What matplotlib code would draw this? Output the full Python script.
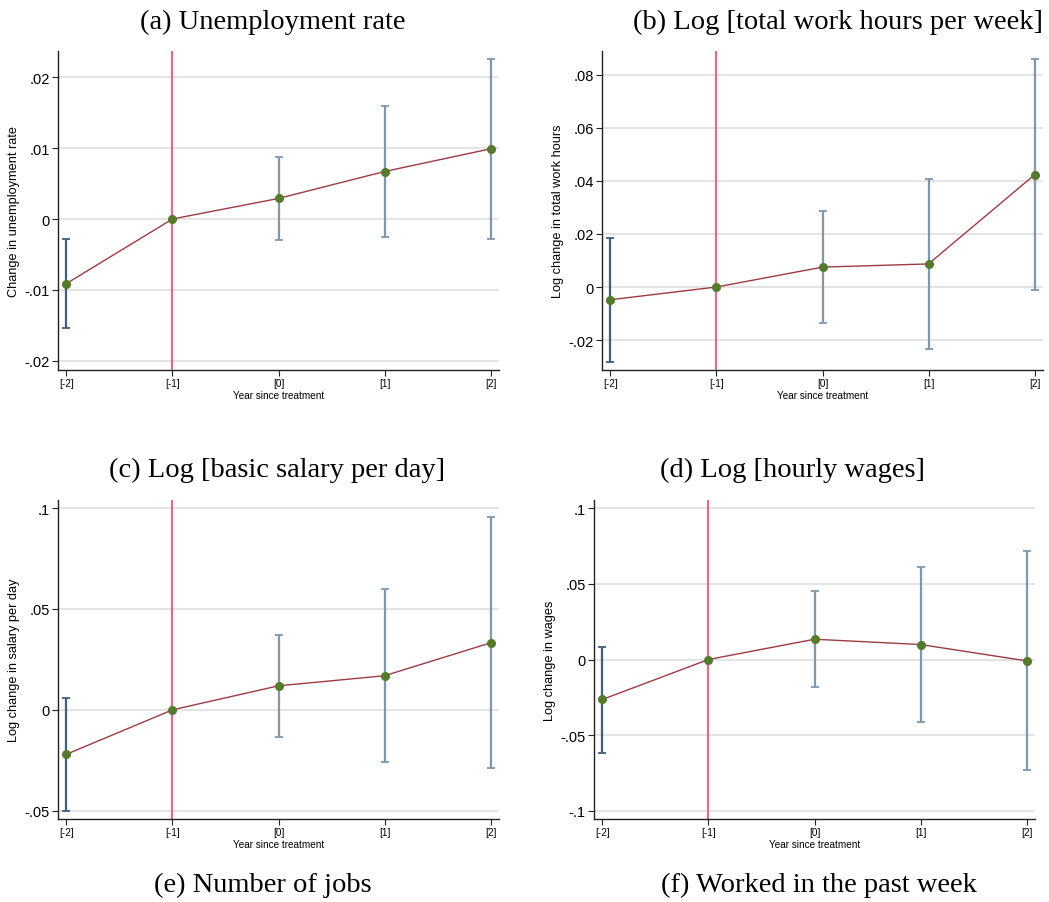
import numpy as np
import matplotlib
matplotlib.use('Agg')
import matplotlib.pyplot as plt

W, H = 1049, 903

YEARS = [-2, -1, 0, 1, 2]
YEAR_LABELS = ['[-2]', '[-1]', '[0]', '[1]', '[2]']

# (a) unemployment rate
unemp = [-0.0091, 0.0, 0.0029, 0.0067, 0.0099]
unemp_lo = [-0.0154, 0.0, -0.0030, -0.0026, -0.0028]
unemp_hi = [-0.0028, 0.0, 0.0087, 0.0160, 0.0226]

# (b) log total work hours
hours = [-0.0048, 0.0, 0.0075, 0.0087, 0.0423]
hours_lo = [-0.0281, 0.0, -0.0136, -0.0233, -0.0013]
hours_hi = [0.0185, 0.0, 0.0285, 0.0407, 0.0859]

# (c) log salary per day
salary = [-0.0220, 0.0, 0.0119, 0.0169, 0.0332]
salary_lo = [-0.0500, 0.0, -0.0136, -0.0260, -0.0288]
salary_hi = [0.0060, 0.0, 0.0373, 0.0597, 0.0955]

# (d) log hourly wages
wages = [-0.0264, 0.0, 0.0134, 0.0099, -0.0009]
wages_lo = [-0.0617, 0.0, -0.0183, -0.0412, -0.0734]
wages_hi = [0.0083, 0.0, 0.0451, 0.0615, 0.0716]

PANELS = [
    # values, lo, hi, ylabel, yticks, yticklabels, ylim, box (left, right, top, bottom px)
    (unemp, unemp_lo, unemp_hi, 'Change in unemployment rate',
     [-0.02, -0.01, 0, 0.01, 0.02], ['-.02', '-.01', '0', '.01', '.02'],
     (-0.0213, 0.0237), (58, 499, 52, 371)),
    (hours, hours_lo, hours_hi, 'Log change in total work hours',
     [-0.02, 0, 0.02, 0.04, 0.06, 0.08], ['-.02', '0', '.02', '.04', '.06', '.08'],
     (-0.0313, 0.089), (602, 1043, 52, 371)),
    (salary, salary_lo, salary_hi, 'Log change in salary per day',
     [-0.05, 0, 0.05, 0.1], ['-.05', '0', '.05', '.1'],
     (-0.0541, 0.104), (58, 499, 501, 820)),
    (wages, wages_lo, wages_hi, 'Log change in wages',
     [-0.1, -0.05, 0, 0.05, 0.1], ['-.1', '-.05', '0', '.05', '.1'],
     (-0.1055, 0.1055), (594, 1035, 501, 820)),
]

CAPTIONS = [
    ('(a) Unemployment rate', 273, 22),
    ('(b) Log [total work hours per week]', 838, 22),
    ('(c) Log [basic salary per day]', 277, 470),
    ('(d) Log [hourly wages]', 792, 470),
    ('(e) Number of jobs', 263, 885),
    ('(f) Worked in the past week', 819, 885),
]

LINE_C = '#9e3a44'
DOT_C = '#557a2c'
CI_FIRST = '#3f5f82'
CI_REST = '#7f98ae'
VLINE_C = '#d9708d'
GRID_C = '#dcdcdc'


def draw_panel(fig, vals, lo, hi, ylabel, yticks, ylabels, ylim, box):
    left, right, top, bottom = box
    ax = fig.add_axes([left / W, (H - bottom) / H, (right - left) / W, (bottom - top) / H])
    ax.set_xlim(-2.08, 2.08)
    ax.set_ylim(*ylim)
    for t in yticks:
        ax.axhline(t, color=GRID_C, lw=1.1, zorder=0)
    ax.axvline(-1, color=VLINE_C, lw=1.6, zorder=1)

    vals = np.array(vals)
    lo, hi = np.array(lo), np.array(hi)
    for i, x in enumerate(YEARS):
        if x == -1:
            continue
        c = CI_FIRST if i == 0 else CI_REST
        ax.errorbar([x], [vals[i]], yerr=[[vals[i] - lo[i]], [hi[i] - vals[i]]],
                    fmt='none', ecolor=c, elinewidth=1.6, capsize=3, capthick=1.3, zorder=2)
    ax.plot(YEARS, vals, color=LINE_C, lw=1.0, zorder=3)
    ax.plot(YEARS, vals, 'o', color=DOT_C, ms=5.5, zorder=4)

    ax.set_xticks(YEARS)
    ax.set_xticklabels(YEAR_LABELS, fontsize=7.2)
    ax.set_yticks(yticks)
    ax.set_yticklabels(ylabels, fontsize=10.5)
    ax.set_xlabel('Year since treatment', fontsize=7.2, labelpad=1)
    ax.set_ylabel(ylabel, fontsize=9.2, labelpad=3)
    for s in ['top', 'right']:
        ax.spines[s].set_visible(False)
    for s in ['left', 'bottom']:
        ax.spines[s].set_color('#222222')
        ax.spines[s].set_linewidth(1.0)
    ax.tick_params(axis='both', length=4, width=0.8, color='#222222', pad=2)
    return ax


def main():
    plt.rcParams['font.family'] = ['Liberation Sans', 'DejaVu Sans']
    fig = plt.figure(figsize=(W / 100, H / 100), dpi=100)
    for p in PANELS:
        draw_panel(fig, *p)
    for text, x, y in CAPTIONS:
        fig.text(x / W, 1 - y / H, text, ha='center', va='center',
                 fontsize=20.5, family='Liberation Serif')
    fig.savefig('out.png', dpi=100)


if __name__ == '__main__':
    main()
